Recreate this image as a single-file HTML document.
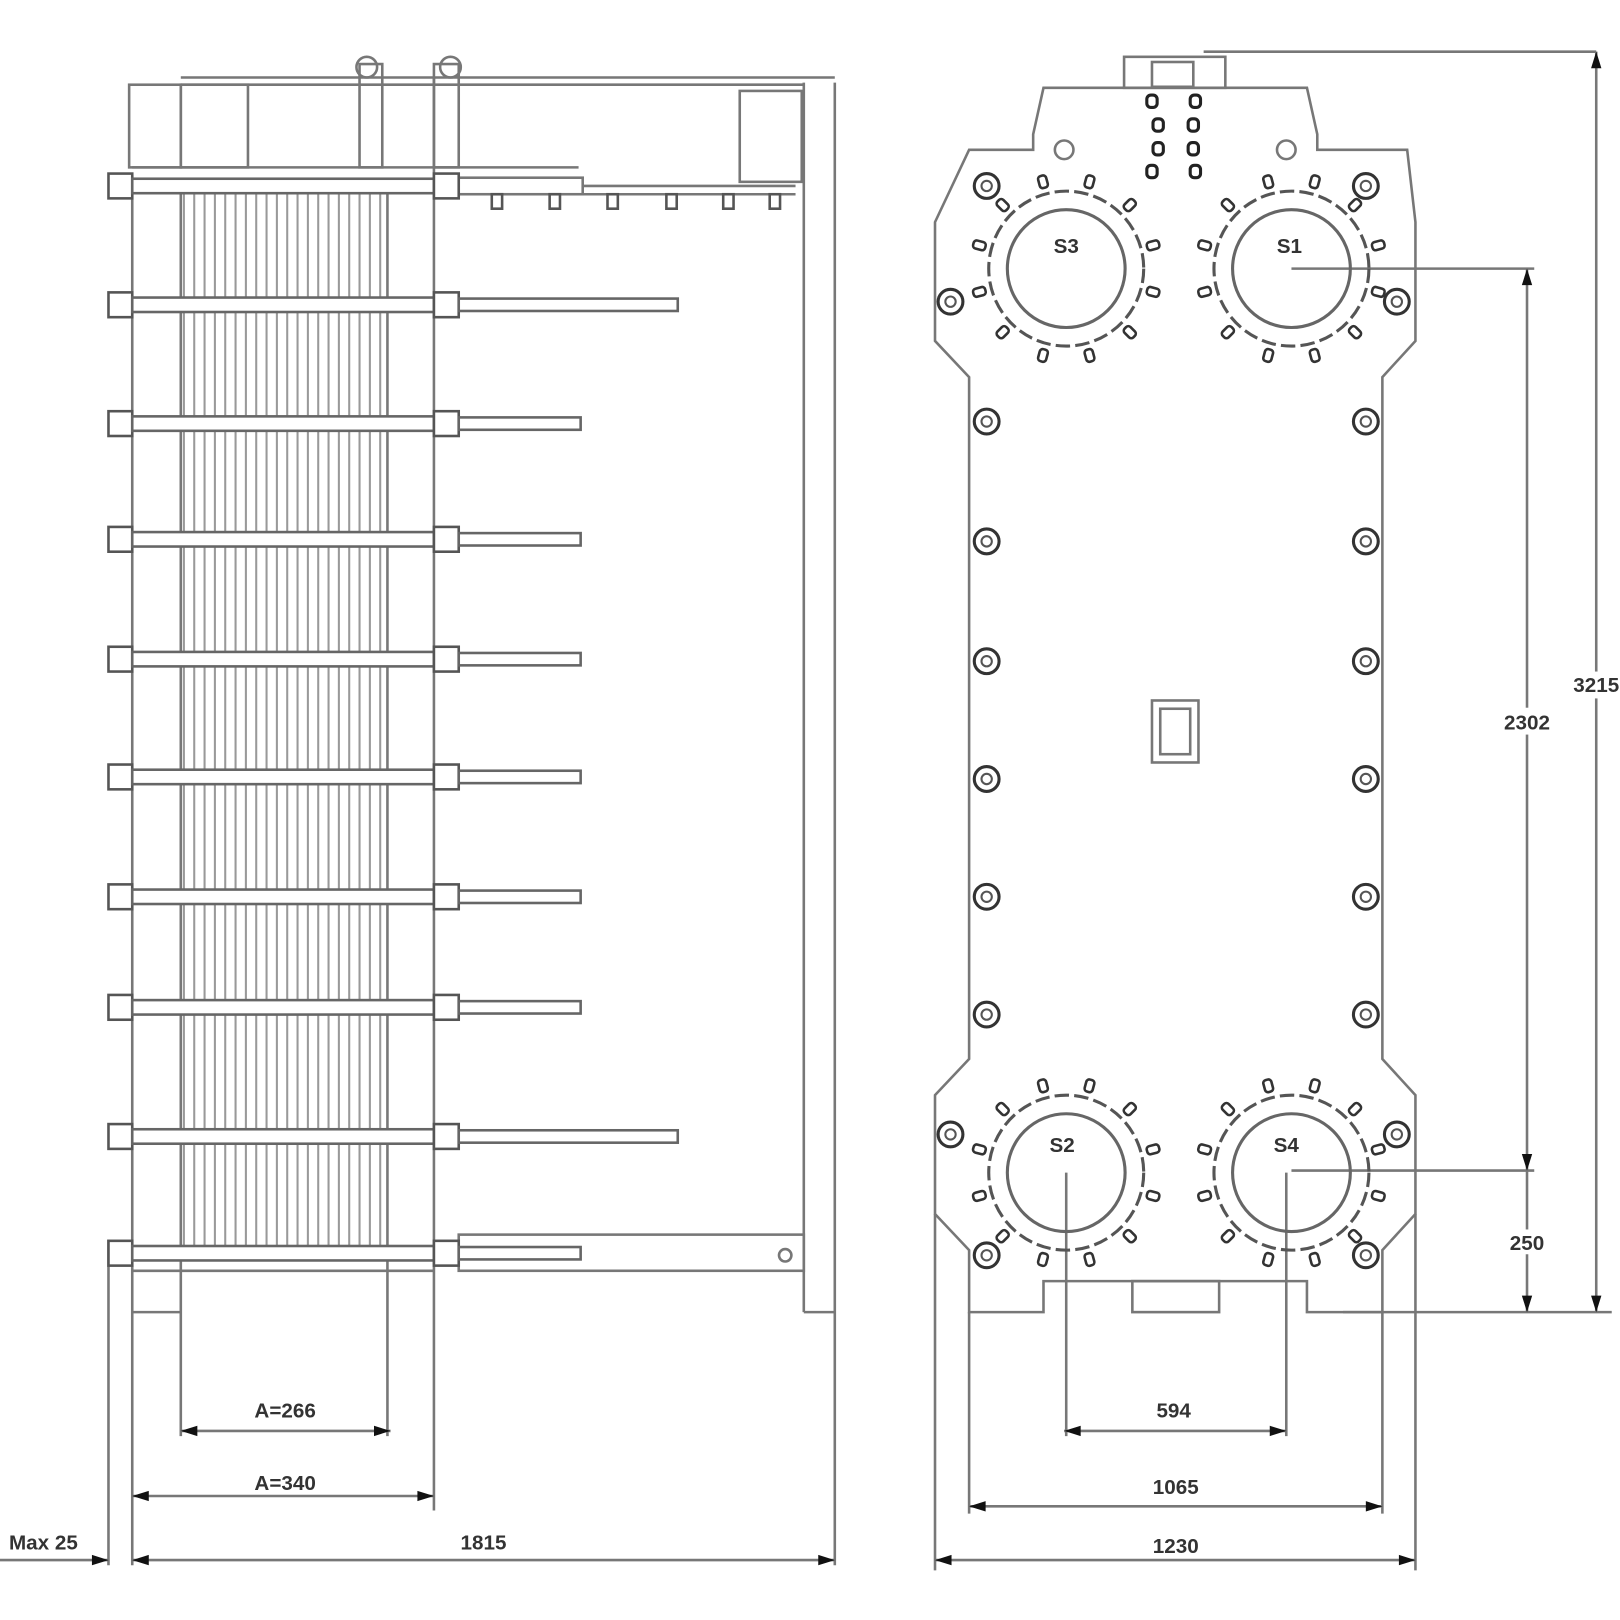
<!DOCTYPE html>
<html><head><meta charset="utf-8"><style>
html,body{margin:0;padding:0;background:#fff;width:1620px;height:1620px;overflow:hidden}
svg{display:block}
text{font-family:"Liberation Sans",sans-serif;font-weight:bold;fill:#333;font-size:20px;text-anchor:middle}
</style></head><body>
<svg width="1620" height="1620" viewBox="0 0 1568 1568" xmlns="http://www.w3.org/2000/svg">
<defs>
<g id="bolt"><circle r="12" fill="#fff" stroke="#333" stroke-width="3"/><circle r="5" fill="none" stroke="#555" stroke-width="2"/></g>
<g id="port">
<circle r="57" fill="none" stroke="#666" stroke-width="3"/>
<circle r="75" fill="none" stroke="#555" stroke-width="3" stroke-dasharray="14 5"/>
<g fill="#fff" stroke="#333" stroke-width="2.5">
<rect x="-4" y="-93" width="8" height="12" rx="3" transform="rotate(15)"/><rect x="-4" y="-93" width="8" height="12" rx="3" transform="rotate(-15)"/>
<rect x="-4" y="-93" width="8" height="12" rx="3" transform="rotate(45)"/><rect x="-4" y="-93" width="8" height="12" rx="3" transform="rotate(75)"/>
<rect x="-4" y="-93" width="8" height="12" rx="3" transform="rotate(105)"/><rect x="-4" y="-93" width="8" height="12" rx="3" transform="rotate(135)"/>
<rect x="-4" y="-93" width="8" height="12" rx="3" transform="rotate(165)"/><rect x="-4" y="-93" width="8" height="12" rx="3" transform="rotate(195)"/>
<rect x="-4" y="-93" width="8" height="12" rx="3" transform="rotate(225)"/><rect x="-4" y="-93" width="8" height="12" rx="3" transform="rotate(255)"/>
<rect x="-4" y="-93" width="8" height="12" rx="3" transform="rotate(285)"/><rect x="-4" y="-93" width="8" height="12" rx="3" transform="rotate(315)"/>
</g></g>
<g id="rod"><rect x="105" y="-12" width="23" height="24" fill="#fff" stroke="#555" stroke-width="2.5"/><rect x="128" y="-7" width="292" height="14" fill="#fff" stroke="#666" stroke-width="2.5"/><rect x="420" y="-12" width="24" height="24" fill="#fff" stroke="#555" stroke-width="2.5"/></g>
</defs>
<g fill="none" stroke="#777" stroke-width="2.5">
<!-- left view frame -->
<line x1="105" y1="1200" x2="105" y2="1515"/>
<line x1="128" y1="170" x2="128" y2="1515"/>
<line x1="420" y1="75" x2="420" y2="1462"/>
<line x1="778" y1="80" x2="778" y2="1270"/>
<line x1="808" y1="80" x2="808" y2="1515"/>
<line x1="175" y1="75" x2="808" y2="75"/>
<line x1="175" y1="82" x2="778" y2="82"/>
<line x1="778" y1="1270" x2="808" y2="1270"/>
<rect x="125" y="82" width="50" height="80"/>
<rect x="175" y="82" width="65" height="80"/>
<rect x="716" y="88" width="60" height="88"/>
<rect x="348" y="62" width="22" height="100"/>
<rect x="420" y="62" width="24" height="100"/>
<circle cx="355" cy="65" r="10"/><circle cx="436" cy="65" r="10"/>
<line x1="128" y1="162" x2="560" y2="162"/>
<!-- top rail -->
<rect x="444" y="172" width="120" height="16"/>
<line x1="444" y1="188" x2="770" y2="188"/>
<line x1="564" y1="180" x2="770" y2="180"/>
<g stroke="#555"><rect x="476" y="188" width="10" height="14"/><rect x="532" y="188" width="10" height="14"/><rect x="588" y="188" width="10" height="14"/><rect x="645" y="188" width="10" height="14"/><rect x="700" y="188" width="10" height="14"/><rect x="745" y="188" width="10" height="14"/></g>
<!-- plates -->
<g stroke="#999" stroke-width="2">
<line x1="178" y1="185" x2="178" y2="1210"/><line x1="188" y1="185" x2="188" y2="1210"/><line x1="198" y1="185" x2="198" y2="1210"/><line x1="208" y1="185" x2="208" y2="1210"/><line x1="218" y1="185" x2="218" y2="1210"/><line x1="228" y1="185" x2="228" y2="1210"/><line x1="238" y1="185" x2="238" y2="1210"/><line x1="248" y1="185" x2="248" y2="1210"/><line x1="258" y1="185" x2="258" y2="1210"/><line x1="268" y1="185" x2="268" y2="1210"/><line x1="278" y1="185" x2="278" y2="1210"/><line x1="288" y1="185" x2="288" y2="1210"/><line x1="298" y1="185" x2="298" y2="1210"/><line x1="308" y1="185" x2="308" y2="1210"/><line x1="318" y1="185" x2="318" y2="1210"/><line x1="328" y1="185" x2="328" y2="1210"/><line x1="338" y1="185" x2="338" y2="1210"/><line x1="348" y1="185" x2="348" y2="1210"/><line x1="358" y1="185" x2="358" y2="1210"/><line x1="368" y1="185" x2="368" y2="1210"/>
</g>
<line x1="175" y1="185" x2="175" y2="1390"/>
<line x1="375" y1="185" x2="375" y2="1390"/>
<!-- bottom rail -->
<rect x="444" y="1195" width="334" height="35"/>
<circle cx="760" cy="1215" r="6"/>
<line x1="128" y1="1230" x2="420" y2="1230"/>
<line x1="128" y1="1270" x2="175" y2="1270"/>
</g>
<!-- rods -->
<g>
<use href="#rod" y="180"/>
<use href="#rod" y="295"/><rect x="444" y="289" width="212" height="12" fill="#fff" stroke="#666" stroke-width="2.5"/>
<use href="#rod" y="410"/><rect x="444" y="404" width="118" height="12" fill="#fff" stroke="#666" stroke-width="2.5"/>
<use href="#rod" y="522"/><rect x="444" y="516" width="118" height="12" fill="#fff" stroke="#666" stroke-width="2.5"/>
<use href="#rod" y="638"/><rect x="444" y="632" width="118" height="12" fill="#fff" stroke="#666" stroke-width="2.5"/>
<use href="#rod" y="752"/><rect x="444" y="746" width="118" height="12" fill="#fff" stroke="#666" stroke-width="2.5"/>
<use href="#rod" y="868"/><rect x="444" y="862" width="118" height="12" fill="#fff" stroke="#666" stroke-width="2.5"/>
<use href="#rod" y="975"/><rect x="444" y="969" width="118" height="12" fill="#fff" stroke="#666" stroke-width="2.5"/>
<use href="#rod" y="1100"/><rect x="444" y="1094" width="212" height="12" fill="#fff" stroke="#666" stroke-width="2.5"/>
<use href="#rod" y="1213"/><rect x="444" y="1207" width="118" height="12" fill="#fff" stroke="#666" stroke-width="2.5"/>
</g>
<!-- left dims -->
<g stroke="#777" stroke-width="2.5" fill="none">
<line x1="175" y1="1385" x2="378" y2="1385"/>
<line x1="128" y1="1448" x2="420" y2="1448"/>
<line x1="0" y1="1510" x2="105" y2="1510"/>
<line x1="128" y1="1510" x2="808" y2="1510"/>
</g>
<g fill="#111"><path d="M175 1385l16-5v10z"/><path d="M378 1385l-16-5v10z"/><path d="M128 1448l16-5v10z"/><path d="M420 1448l-16-5v10z"/><path d="M105 1510l-16-5v10z"/><path d="M128 1510l16-5v10z"/><path d="M808 1510l-16-5v10z"/></g>
<text x="276" y="1372">A=266</text>
<text x="276" y="1442">A=340</text>
<text x="468" y="1500">1815</text>
<text x="42" y="1500">Max 25</text>

<!-- right view plate -->
<g fill="none" stroke="#777" stroke-width="2.5">
<path d="M1000 145 L1000 130 L1010 85 L1265 85 L1275 130 L1275 145 L1362 145 L1370 215 L1370 330 L1338 365 L1338 1025 L1370 1060 L1370 1175 L1338 1210 L1338 1270 L1265 1270 L1265 1240 L1010 1240 L1010 1270 L938 1270 L938 1210 L905 1175 L905 1060 L938 1025 L938 365 L905 330 L905 215 L938 145 Z"/>
<rect x="1088" y="55" width="98" height="30"/>
<rect x="1115" y="60" width="40" height="24"/>
<rect x="1115" y="678" width="45" height="60"/>
<rect x="1123" y="686" width="29" height="44"/>
<rect x="1096" y="1240" width="84" height="30"/>
<line x1="1165" y1="50" x2="1545" y2="50"/>
<line x1="1545" y1="50" x2="1545" y2="1270"/>
<line x1="1300" y1="1270" x2="1560" y2="1270"/>
<line x1="1250" y1="260" x2="1485" y2="260"/>
<line x1="1478" y1="260" x2="1478" y2="1270"/>
<line x1="1250" y1="1133" x2="1485" y2="1133"/>
<line x1="1032" y1="1135" x2="1032" y2="1390"/>
<line x1="1245" y1="1135" x2="1245" y2="1390"/>
<line x1="1030" y1="1385" x2="1245" y2="1385"/>
<line x1="938" y1="1270" x2="938" y2="1465"/>
<line x1="1338" y1="1270" x2="1338" y2="1465"/>
<line x1="938" y1="1458" x2="1338" y2="1458"/>
<line x1="905" y1="1175" x2="905" y2="1520"/>
<line x1="1370" y1="1175" x2="1370" y2="1520"/>
<line x1="905" y1="1510" x2="1370" y2="1510"/>
<circle cx="1030" cy="145" r="9"/><circle cx="1245" cy="145" r="9"/>
</g>
<g fill="#111"><path d="M1030 1385l16-5v10z"/><path d="M1245 1385l-16-5v10z"/><path d="M938 1458l16-5v10z"/><path d="M1338 1458l-16-5v10z"/><path d="M905 1510l16-5v10z"/><path d="M1370 1510l-16-5v10z"/><path d="M1478 260l-5 16h10z"/><path d="M1478 1133l-5-16h10z"/><path d="M1478 1270l-5-16h10z"/><path d="M1545 50l-5 16h10z"/><path d="M1545 1270l-5-16h10z"/></g>
<g fill="#fff" stroke="#222" stroke-width="3">
<rect x="1110" y="92" width="10" height="12" rx="4"/><rect x="1152" y="92" width="10" height="12" rx="4"/>
<rect x="1116" y="115" width="10" height="12" rx="4"/><rect x="1150" y="115" width="10" height="12" rx="4"/>
<rect x="1116" y="138" width="10" height="12" rx="4"/><rect x="1150" y="138" width="10" height="12" rx="4"/>
<rect x="1110" y="160" width="10" height="12" rx="4"/><rect x="1152" y="160" width="10" height="12" rx="4"/>
</g>
<use href="#port" x="1032" y="260"/><use href="#port" x="1250" y="260"/>
<use href="#port" x="1032" y="1135"/><use href="#port" x="1250" y="1135"/>
<g>
<use href="#bolt" x="955" y="180"/><use href="#bolt" x="920" y="292"/><use href="#bolt" x="955" y="408"/><use href="#bolt" x="955" y="524"/><use href="#bolt" x="955" y="640"/><use href="#bolt" x="955" y="754"/><use href="#bolt" x="955" y="868"/><use href="#bolt" x="955" y="982"/><use href="#bolt" x="920" y="1098"/><use href="#bolt" x="955" y="1215"/>
<use href="#bolt" x="1322" y="180"/><use href="#bolt" x="1352" y="292"/><use href="#bolt" x="1322" y="408"/><use href="#bolt" x="1322" y="524"/><use href="#bolt" x="1322" y="640"/><use href="#bolt" x="1322" y="754"/><use href="#bolt" x="1322" y="868"/><use href="#bolt" x="1322" y="982"/><use href="#bolt" x="1352" y="1098"/><use href="#bolt" x="1322" y="1215"/>
</g>
<text x="1032" y="245">S3</text><text x="1248" y="245">S1</text>
<text x="1028" y="1115">S2</text><text x="1245" y="1115">S4</text>
<text x="1136" y="1372">594</text>
<text x="1138" y="1446">1065</text>
<text x="1138" y="1503">1230</text>
<g fill="#fff" stroke="none"><rect x="1450" y="685" width="56" height="26"/><rect x="1455" y="1190" width="46" height="24"/><rect x="1520" y="650" width="48" height="26"/></g>
<text x="1478" y="706">2302</text>
<text x="1478" y="1210">250</text>
<text x="1545" y="670">3215</text>
</svg>
</body></html>
